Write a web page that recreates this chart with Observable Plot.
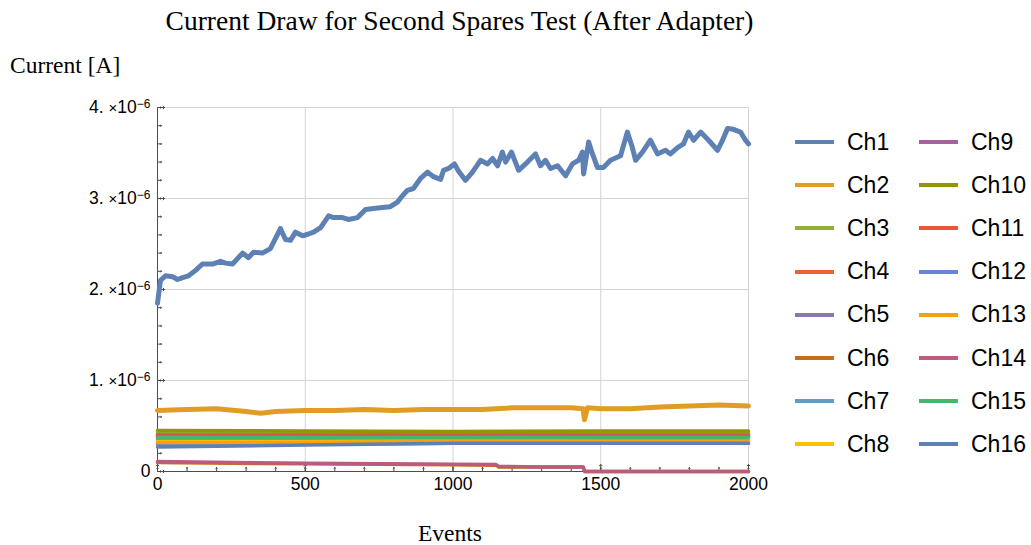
<!DOCTYPE html>
<html>
<head>
<meta charset="utf-8">
<script src="https://cdn.jsdelivr.net/npm/d3@7"></script>
<script src="https://cdn.jsdelivr.net/npm/@observablehq/plot@0.6"></script>
<style>
  body { margin: 0; background: #fff; }
  #wrap { position: relative; width: 1031px; height: 545px; overflow: hidden; }
  #wrap svg { position: absolute; left: 0; top: 0; }
  .serif { position: absolute; font-family: "Liberation Serif", "Times New Roman", serif; color: #000; white-space: nowrap; line-height: 1; }
  .leg { position: absolute; font-family: "Liberation Sans", Arial, sans-serif; font-size: 23px; line-height: 1; color: #000; white-space: nowrap; }
  .sw { position: absolute; height: 4px; }
</style>
</head>
<body>
<div id="wrap"></div>
<script>
// ---------------- data (current in units of 1e-6 A) ----------------
const unit = 1e-6;
const channels = ["Ch1","Ch2","Ch3","Ch4","Ch5","Ch6","Ch7","Ch8","Ch9","Ch10","Ch11","Ch12","Ch13","Ch14","Ch15","Ch16"];
const colors = ["#5E81B5","#E19C24","#8FB032","#EB6235","#8778B3","#C56E1A","#5D9EC7","#FFBF00","#A5609D","#929600","#E95536","#6685D9","#F89F13","#BC5B80","#47B66C","#5E81B5"];

const ch1Events = [0,10,27,51,68,85,105,129,152,186,213,230,254,288,308,325,355,382,399,416,433,450,467,491,511,528,552,579,596,626,646,677,704,731,761,788,812,829,846,866,890,914,934,958,968,985,1005,1019,1042,1066,1093,1117,1134,1151,1167,1178,1198,1222,1252,1279,1296,1313,1330,1354,1381,1404,1425,1438,1442,1459,1472,1489,1509,1533,1567,1590,1607,1618,1641,1668,1692,1719,1736,1760,1780,1797,1814,1838,1865,1895,1912,1929,1949,1973,1990,2000];
const ch1Values = [1.85,2.10,2.15,2.14,2.11,2.13,2.15,2.21,2.28,2.28,2.31,2.29,2.28,2.40,2.35,2.41,2.40,2.45,2.56,2.67,2.55,2.54,2.63,2.59,2.61,2.63,2.68,2.81,2.79,2.79,2.77,2.79,2.88,2.89,2.90,2.91,2.96,3.03,3.09,3.11,3.22,3.29,3.24,3.21,3.31,3.33,3.38,3.30,3.20,3.29,3.42,3.38,3.44,3.36,3.51,3.40,3.51,3.31,3.40,3.49,3.36,3.42,3.33,3.36,3.25,3.38,3.42,3.51,3.27,3.62,3.49,3.34,3.34,3.42,3.47,3.73,3.56,3.42,3.51,3.64,3.49,3.53,3.49,3.56,3.60,3.73,3.64,3.73,3.64,3.53,3.64,3.77,3.76,3.73,3.64,3.60];

const ch2Events = [0,100,200,300,350,400,500,600,700,800,900,1000,1100,1200,1300,1400,1440,1445,1455,1500,1600,1700,1800,1900,2000];
const ch2Values = [0.67,0.68,0.69,0.66,0.64,0.66,0.67,0.67,0.68,0.67,0.68,0.68,0.68,0.70,0.70,0.70,0.69,0.57,0.70,0.69,0.69,0.71,0.72,0.73,0.72];

const flatEvents = [0,500,1000,1500,2000];
const ch3Values  = [0.42,0.42,0.42,0.42,0.42];
const ch4Values  = [0.39,0.39,0.39,0.39,0.39];
const ch5Values  = [0.38,0.38,0.38,0.38,0.38];
const ch7Values  = [0.35,0.35,0.35,0.35,0.35];
const ch8Values  = [0.33,0.33,0.34,0.34,0.34];
const ch9Values  = [0.40,0.40,0.40,0.40,0.40];
const ch10Values = [0.45,0.445,0.44,0.445,0.445];
const ch11Values = [0.39,0.39,0.39,0.39,0.39];
const ch12Values = [0.30,0.30,0.31,0.31,0.31];
const ch13Values = [0.32,0.32,0.33,0.33,0.33];
const ch15Values = [0.37,0.37,0.37,0.37,0.37];
const ch16Values = [0.27,0.29,0.31,0.31,0.31];

const lowEvents  = [0,250,500,750,1000,1145,1155,1300,1440,1446,1700,2000];
const ch6Values  = [0.10,0.09,0.085,0.08,0.075,0.07,0.05,0.05,0.05,0,0,0];
const ch14Values = [0.11,0.10,0.09,0.085,0.08,0.077,0.055,0.05,0.05,0,0,0];

const xMajorTicks = [0,500,1000,1500,2000];
const yMajorTicks = [0,1e-6,2e-6,3e-6,4e-6];

// ---------------- build table ----------------
const seriesEvents = [ch1Events,ch2Events,flatEvents,flatEvents,flatEvents,lowEvents,flatEvents,flatEvents,flatEvents,flatEvents,flatEvents,flatEvents,flatEvents,lowEvents,flatEvents,flatEvents];
const seriesValues = [ch1Values,ch2Values,ch3Values,ch4Values,ch5Values,ch6Values,ch7Values,ch8Values,ch9Values,ch10Values,ch11Values,ch12Values,ch13Values,ch14Values,ch15Values,ch16Values];
const table = channels.flatMap((ch, k) => seriesEvents[k].map((e, i) => ({ch, event: e, current: seriesValues[k][i] * unit})));
const thick = new Set(["Ch1","Ch2"]);

const xMinor = d3.range(0, 2001, 100);
const yMinor = d3.range(0, 21).map(i => i * 0.2e-6);
const axisColor = "#4d4d4d";
const gridColor = "#d3d3d3";

const fmtY = d => d === 0 ? "0" : `${Math.round(d / unit)}. ×10^−6`;

const chart = Plot.plot({
  width: 1031, height: 545,
  marginLeft: 157, marginRight: 283, marginTop: 107, marginBottom: 74,
  style: {fontFamily: "'Liberation Sans', Arial, sans-serif", background: "transparent"},
  x: {domain: [0, 2000], axis: null},
  y: {domain: [0, 4e-6], axis: null},
  color: {domain: channels, range: colors},
  marks: [
    Plot.gridX(xMajorTicks.slice(1), {stroke: gridColor, strokeOpacity: 1}),
    Plot.gridY(yMajorTicks.slice(1), {stroke: gridColor, strokeOpacity: 1}),
    Plot.ruleX([0], {stroke: axisColor}),
    Plot.ruleY([0], {stroke: axisColor}),
    Plot.vector(yMinor, {y: d => d, frameAnchor: "left", rotate: 90, anchor: "start", length: 4, stroke: axisColor, strokeWidth: 1}),
    Plot.vector(yMajorTicks, {y: d => d, frameAnchor: "left", rotate: 90, anchor: "start", length: 7, stroke: axisColor, strokeWidth: 1}),
    Plot.vector(xMinor, {x: d => d, frameAnchor: "bottom", rotate: 0, anchor: "start", length: 4, stroke: axisColor, strokeWidth: 1}),
    Plot.vector(xMajorTicks, {x: d => d, frameAnchor: "bottom", rotate: 0, anchor: "start", length: 7, stroke: axisColor, strokeWidth: 1}),
    Plot.axisY(yMajorTicks, {tickSize: 0, tickPadding: 7, tickFormat: fmtY, fontSize: 17.5, fill: "#000", label: null}),
    Plot.axisX(xMajorTicks, {tickSize: 0, tickPadding: 6, tickFormat: d => String(d), fontSize: 17.5, fill: "#000", label: null}),
    Plot.lineY(table.filter(d => thick.has(d.ch)), {x: "event", y: "current", z: "ch", stroke: "ch", strokeWidth: 5, strokeLinejoin: "round"}),
    Plot.lineY(table.filter(d => !thick.has(d.ch)), {x: "event", y: "current", z: "ch", stroke: "ch", strokeWidth: 3.5, strokeLinejoin: "round"})
  ]
});

// superscript exponents in y tick labels
chart.querySelectorAll('g[aria-label="y-axis tick label"] text').forEach(t => {
  const s = t.textContent;
  const m = s.match(/^(.*)×10\^(.*)$/);
  if (m) {
    t.textContent = m[1];
    const tx = document.createElementNS("http://www.w3.org/2000/svg", "tspan");
    tx.setAttribute("font-size", "15");
    tx.textContent = "×";
    t.appendChild(tx);
    const tt = document.createElementNS("http://www.w3.org/2000/svg", "tspan");
    tt.textContent = "10";
    t.appendChild(tt);
    const ts = document.createElementNS("http://www.w3.org/2000/svg", "tspan");
    ts.setAttribute("dy", "-0.45em");
    ts.setAttribute("font-size", "12");
    ts.textContent = m[2];
    t.appendChild(ts);
  }
});

const wrap = document.getElementById("wrap");
wrap.appendChild(chart);

function addText(cls, txt, css) {
  const d = document.createElement("div");
  d.className = cls;
  d.textContent = txt;
  Object.assign(d.style, css);
  wrap.appendChild(d);
  return d;
}
addText("serif", "Current Draw for Second Spares Test (After Adapter)", {left: "459.5px", top: "7px", fontSize: "27.5px", transform: "translateX(-50%)"});
addText("serif", "Current [A]", {left: "10px", top: "54px", fontSize: "23.5px"});
addText("serif", "Events", {left: "450px", top: "522px", fontSize: "23.5px", transform: "translateX(-50%)"});

// legend
channels.forEach((ch, i) => {
  const col = Math.floor(i / 8), row = i % 8;
  const cy = 142 + row * 43.2;
  const x0 = col === 0 ? 795 : 919;
  const sw = document.createElement("div");
  sw.className = "sw";
  Object.assign(sw.style, {left: x0 + "px", top: (cy - 2) + "px", width: "39px", background: colors[i]});
  wrap.appendChild(sw);
  addText("leg", ch, {left: (x0 + 52) + "px", top: (cy - 11.5) + "px"});
});
</script>
</body>
</html>
